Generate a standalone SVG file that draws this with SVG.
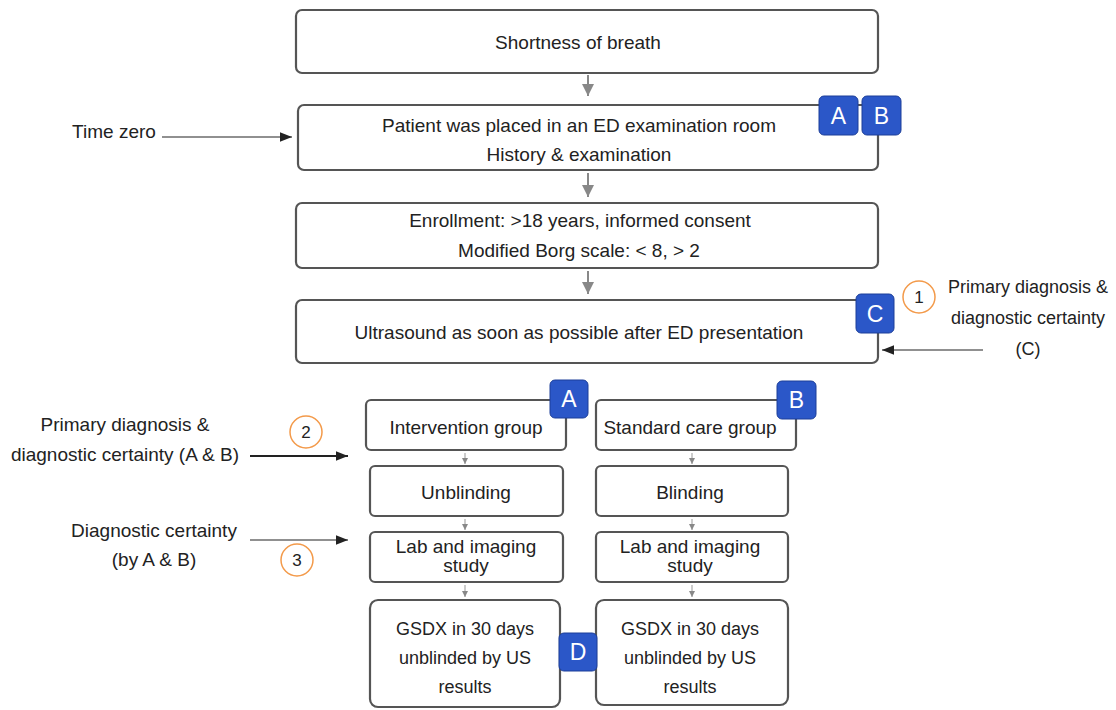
<svg xmlns="http://www.w3.org/2000/svg" width="1116" height="710" viewBox="0 0 1116 710">
<defs>
<style>
.box{fill:#fff;stroke:#555;stroke-width:2.2}
.t{font-family:"Liberation Sans",Arial,sans-serif;font-size:19px;fill:#222;text-anchor:middle}
.s{font-size:18px}
.badge{fill:#2b57c8;stroke:#1d3f99;stroke-width:1}
.bt{font-family:"Liberation Sans",Arial,sans-serif;font-size:23px;fill:#fff;text-anchor:middle}
.circ{fill:#fff;stroke:#f39a4a;stroke-width:1.5}
.ct{font-family:"Liberation Sans",Arial,sans-serif;font-size:17px;fill:#222;text-anchor:middle}
.garrow{stroke:#888;stroke-width:2;fill:none}
.sarrow{stroke:#999;stroke-width:1;fill:none}
.karrow{stroke:#222;fill:none}
</style>
<marker id="gh" viewBox="0 0 10 10" refX="10" refY="5" markerWidth="6" markerHeight="6" markerUnits="userSpaceOnUse" orient="auto"><path d="M0,0 L10,5 L0,10 z" fill="#888"/></marker>
<marker id="gbig" viewBox="0 0 10 10" refX="10" refY="5" markerWidth="12" markerHeight="12" markerUnits="userSpaceOnUse" orient="auto"><path d="M0,0 L10,5 L0,10 z" fill="#888"/></marker>
<marker id="kh" viewBox="0 0 10 10" refX="10" refY="5" markerWidth="15" markerHeight="12" markerUnits="userSpaceOnUse" orient="auto"><path d="M0,1 L10,5 L0,9 z" fill="#222"/></marker>
</defs>

<g id="connectors">
<line class="garrow" x1="588" y1="75" x2="588" y2="96" marker-end="url(#gbig)"/>
<line class="garrow" x1="588" y1="173" x2="588" y2="197" marker-end="url(#gbig)"/>
<line class="garrow" x1="588" y1="271" x2="588" y2="294" marker-end="url(#gbig)"/>
<line class="sarrow" x1="465" y1="453" x2="465" y2="464" marker-end="url(#gh)"/>
<line class="sarrow" x1="692" y1="453" x2="692" y2="464" marker-end="url(#gh)"/>
<line class="sarrow" x1="465" y1="519" x2="465" y2="530" marker-end="url(#gh)"/>
<line class="sarrow" x1="692" y1="519" x2="692" y2="530" marker-end="url(#gh)"/>
<line class="sarrow" x1="465" y1="585" x2="465" y2="597" marker-end="url(#gh)"/>
<line class="sarrow" x1="692" y1="585" x2="692" y2="597" marker-end="url(#gh)"/>
<line class="karrow" stroke-width="1.2" x1="162" y1="137" x2="292" y2="137" marker-end="url(#kh)"/>
<line class="karrow" stroke-width="1.2" x1="983" y1="350" x2="882" y2="350" marker-end="url(#kh)"/>
<line class="karrow" stroke-width="2.2" x1="250" y1="456" x2="348" y2="456" marker-end="url(#kh)"/>
<line class="karrow" stroke-width="1.2" x1="250" y1="540" x2="348" y2="540" marker-end="url(#kh)"/>
</g>

<g id="n-sob">
<rect class="box" x="296" y="10" width="582" height="63" rx="6"/>
<text class="t" x="578" y="49">Shortness of breath</text>
</g>

<g id="n-patient">
<rect class="box" x="298" y="105" width="580" height="65" rx="6"/>
<text class="t" x="579" y="132">Patient was placed in an ED examination room</text>
<text class="t" x="579" y="161">History &amp; examination</text>
</g>

<g id="n-enroll">
<rect class="box" x="296" y="203" width="582" height="65" rx="6"/>
<text class="t" x="580" y="227">Enrollment: &gt;18 years, informed consent</text>
<text class="t" x="579" y="257">Modified Borg scale: &lt; 8, &gt; 2</text>
</g>

<g id="n-us">
<rect class="box" x="296" y="300" width="582" height="63" rx="6"/>
<text class="t" x="579" y="339">Ultrasound as soon as possible after ED presentation</text>
</g>

<g id="n-interv">
<rect class="box" x="366" y="400" width="200" height="50" rx="5"/>
<text class="t" x="466" y="434">Intervention group</text>
</g>
<g id="n-std">
<rect class="box" x="596" y="400" width="200" height="50" rx="5"/>
<text class="t" x="690" y="434">Standard care group</text>
</g>
<g id="n-unblind">
<rect class="box" x="370" y="466" width="193" height="50" rx="5"/>
<text class="t" x="466" y="499">Unblinding</text>
</g>
<g id="n-blind">
<rect class="box" x="596" y="466" width="192" height="50" rx="5"/>
<text class="t" x="690" y="499">Blinding</text>
</g>
<g id="n-lab1">
<rect class="box" x="370" y="532" width="193" height="50" rx="5"/>
<text class="t" x="466" y="553">Lab and imaging</text>
<text class="t" x="466" y="572">study</text>
</g>
<g id="n-lab2">
<rect class="box" x="596" y="532" width="192" height="50" rx="5"/>
<text class="t" x="690" y="553">Lab and imaging</text>
<text class="t" x="690" y="572">study</text>
</g>
<g id="n-gsdx1">
<rect class="box" x="370" y="600" width="190" height="107" rx="8"/>
<text class="t s" x="465" y="635">GSDX in 30 days</text>
<text class="t s" x="465" y="664">unblinded by US</text>
<text class="t s" x="465" y="693">results</text>
</g>
<g id="n-gsdx2">
<rect class="box" x="596" y="600" width="192" height="105" rx="8"/>
<text class="t s" x="690" y="635">GSDX in 30 days</text>
<text class="t s" x="690" y="664">unblinded by US</text>
<text class="t s" x="690" y="693">results</text>
</g>

<g id="badge-A1"><rect class="badge" x="819" y="96" width="39" height="39" rx="5"/><text class="bt" x="838.5" y="124">A</text></g>
<g id="badge-B1"><rect class="badge" x="862" y="96" width="39" height="39" rx="5"/><text class="bt" x="881.5" y="124">B</text></g>
<g id="badge-C"><rect class="badge" x="856" y="294" width="38" height="39" rx="5"/><text class="bt" x="875" y="322">C</text></g>
<g id="badge-A2"><rect class="badge" x="550" y="380" width="38" height="38" rx="5"/><text class="bt" x="569" y="407">A</text></g>
<g id="badge-B2"><rect class="badge" x="777" y="381" width="39" height="38" rx="5"/><text class="bt" x="796.5" y="408">B</text></g>
<g id="badge-D"><rect class="badge" x="559" y="633" width="38" height="38" rx="5"/><text class="bt" x="578" y="660">D</text></g>

<g id="lbl-time"><text class="t" x="114" y="138">Time zero</text></g>
<g id="lbl-1">
<circle class="circ" cx="919" cy="297" r="16"/><text class="ct" x="919" y="303">1</text>
<text class="t s" x="1028" y="293">Primary diagnosis &amp;</text>
<text class="t s" x="1028" y="324">diagnostic certainty</text>
<text class="t s" x="1028" y="355">(C)</text>
</g>
<g id="lbl-2">
<circle class="circ" cx="306" cy="432" r="16"/><text class="ct" x="306" y="438">2</text>
<text class="t" x="125" y="431">Primary diagnosis &amp;</text>
<text class="t" x="125" y="461">diagnostic certainty (A &amp; B)</text>
</g>
<g id="lbl-3">
<circle class="circ" cx="297" cy="560" r="16"/><text class="ct" x="297" y="566">3</text>
<text class="t" x="154" y="537">Diagnostic certainty</text>
<text class="t" x="154" y="566">(by A &amp; B)</text>
</g>
</svg>
